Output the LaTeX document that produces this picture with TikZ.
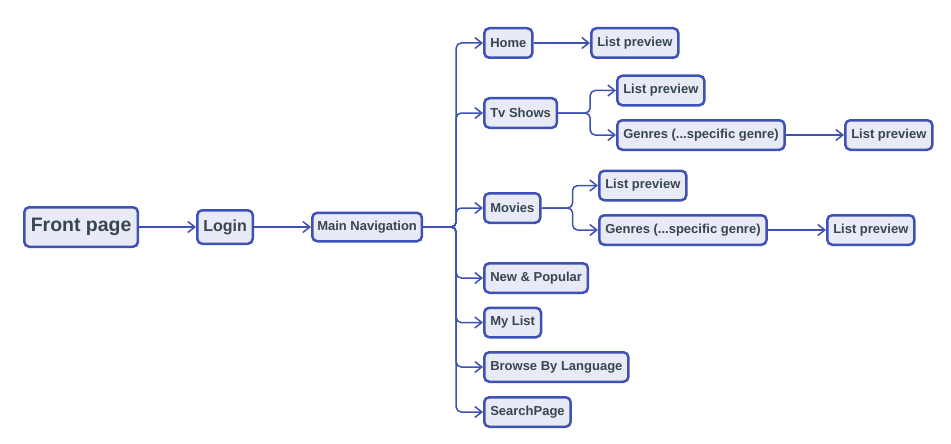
\documentclass[tikz,border=0pt]{standalone}
\usepackage{fontspec}
\setmainfont{Liberation Sans}
\usepackage{xcolor}
\usetikzlibrary{arrows.meta,positioning}

\definecolor{navblue}{HTML}{3F51B5}
\definecolor{navfill}{HTML}{E8EAF6}
\definecolor{navtext}{HTML}{37474F}

\begin{document}
\begin{tikzpicture}[x=1pt, y=-1pt,
	>={Straight Barb[length=7pt,width=11pt]},
	page/.style = {draw=navblue, fill=navfill, line width=2.5pt, rounded corners=5pt,
		text=navtext, anchor=west, inner xsep=6pt, inner ysep=0pt, minimum height=29.5pt,
		font=\fontsize{13}{15}\selectfont\bfseries},
	link/.style = {->, navblue, line width=1.5pt},
	fork/.style = {rounded corners=5pt, to path={-- ++(#1,0) |- (\tikztotarget)}}
	]
	\useasboundingbox (0,0) rectangle (951,444);
	
	\node (front) [page, minimum height=39.5pt, inner xsep=6.5pt, font=\fontsize{19.5}{22}\selectfont\bfseries] at (23,227) {Front page};
	\node (login) [page, minimum height=33.5pt, font=\fontsize{16}{18}\selectfont\bfseries] at (196,227) {Login};
	\node (mainnav) [page, minimum height=28.5pt, inner xsep=5pt] at (311,227) {Main Navigation};
	
	\node (home)     [page] at (483,43)  {Home};
	\node (tv)       [page] at (483,113) {Tv Shows};
	\node (movies)   [page] at (483,208) {Movies};
	\node (popular)  [page] at (483,278) {New \& Popular};
	\node (mylist)   [page] at (483,322.5) {My List};
	\node (language) [page] at (483,367) {Browse By Language};
	\node (search)   [page] at (483,412) {SearchPage};
	
	\node (homelist)  [page] at (590,43)    {List preview};
	\node (tvlist)    [page] at (616,90.5)  {List preview};
	\node (tvgenre)   [page] at (616,135)   {Genres (...specific genre)};
	\node (tvglist)   [page] at (844,135)   {List preview};
	\node (movlist)   [page] at (598,185.5) {List preview};
	\node (movgenre)  [page] at (598,230)   {Genres (...specific genre)};
	\node (movglist)  [page] at (826,230)   {List preview};
	
	\path[link]
	(front.east)    edge  (login.west)
	(login.east)    edge  (mainnav.west)
	
	(mainnav.east)  edge [fork=33]  (home.west)
	(mainnav.east)  edge [fork=33]  (tv.west)
	(mainnav.east)  edge [fork=33]  (movies.west)
	(mainnav.east)  edge [fork=33]  (popular.west)
	(mainnav.east)  edge [fork=33]  (mylist.west)
	(mainnav.east)  edge [fork=33]  (language.west)
	(mainnav.east)  edge [fork=33]  (search.west)
	
	(home.east)     edge  (homelist.west)
	(tv.east)       edge [fork=32]  (tvlist.west)
	(tv.east)       edge [fork=32]  (tvgenre.west)
	(tvgenre.east)  edge  (tvglist.west)
	(movies.east)   edge [fork=31]  (movlist.west)
	(movies.east)   edge [fork=31]  (movgenre.west)
	(movgenre.east) edge  (movglist.west);
\end{tikzpicture}
\end{document}
